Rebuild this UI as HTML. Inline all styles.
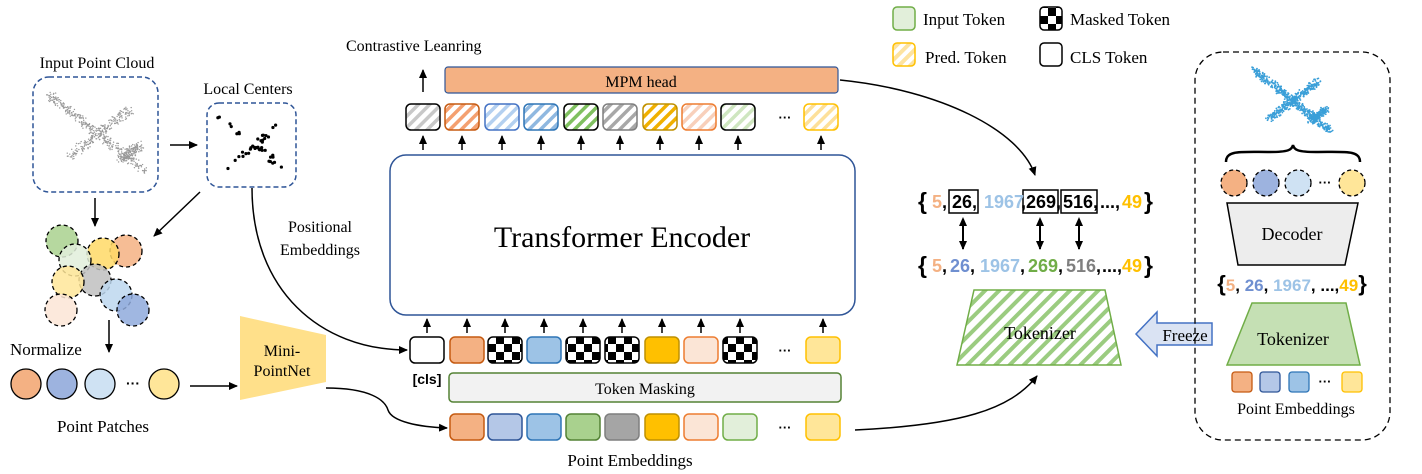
<!DOCTYPE html>
<html><head><meta charset="utf-8"><style>
html,body{margin:0;padding:0;background:#fff;}
svg{display:block}
.t{font-family:"Liberation Serif",serif;fill:#000}
.b{font-family:"Liberation Sans",sans-serif;font-weight:bold}
</style></head><body>
<svg id="s" width="1422" height="474" viewBox="0 0 1422 474" xmlns="http://www.w3.org/2000/svg">
<defs>
<marker id="ar" markerWidth="10" markerHeight="10" refX="8" refY="5" orient="auto" markerUnits="userSpaceOnUse"><path d="M0,1 L9,5 L0,9 Z" fill="#000"/></marker>
<marker id="ar2" markerWidth="10" markerHeight="10" refX="2" refY="5" orient="auto" markerUnits="userSpaceOnUse"><path d="M9,1 L0,5 L9,9 Z" fill="#000"/></marker>
<pattern id="chk" width="16" height="16" patternUnits="userSpaceOnUse"><rect width="16" height="16" fill="#fff"/><rect width="8" height="8" fill="#000"/><rect x="8" y="8" width="8" height="8" fill="#000"/></pattern>
<pattern id="hg" width="10" height="10" patternUnits="userSpaceOnUse" patternTransform="rotate(45)"><rect width="10" height="10" fill="#fff"/><rect width="4" height="10" fill="#9bcc80"/></pattern>
<pattern id="hy" width="8" height="8" patternUnits="userSpaceOnUse" patternTransform="rotate(45)"><rect width="8" height="8" fill="#fff"/><rect width="4" height="8" fill="#fde3a0"/></pattern>
</defs>

<!-- legend -->
<rect x="893" y="7" width="22" height="23" rx="4" fill="#e2efda" stroke="#70ad47" stroke-width="1.5"/>
<text x="923" y="25" class="t" font-size="17">Input Token</text>
<rect x="1040" y="7" width="22" height="23" rx="4" fill="url(#chk)" stroke="#000" stroke-width="1.5"/>
<text x="1070" y="25" class="t" font-size="17">Masked Token</text>
<rect x="893" y="43" width="22" height="23" rx="4" fill="url(#hy)" stroke="#ffc000" stroke-width="1.5"/>
<text x="925" y="63" class="t" font-size="17">Pred. Token</text>
<rect x="1040" y="43" width="22" height="23" rx="4" fill="#fff" stroke="#000" stroke-width="1.5"/>
<text x="1070" y="63" class="t" font-size="17">CLS Token</text>

<!-- left -->
<text x="97" y="68" class="t" font-size="16" text-anchor="middle">Input Point Cloud</text>
<rect x="33" y="77" width="125" height="115" rx="16" fill="#fff" stroke="#2f5597" stroke-width="1.5" stroke-dasharray="5,3"/>
<g id="pc"></g>
<text x="248" y="94" class="t" font-size="16" text-anchor="middle">Local Centers</text>
<rect x="207" y="103" width="89" height="84" rx="12" fill="#fff" stroke="#2f5597" stroke-width="1.5" stroke-dasharray="5,3"/>
<g id="lc"></g>
<line x1="170" y1="145" x2="197" y2="145" stroke="#000" stroke-width="1.5" marker-end="url(#ar)"/>
<line x1="95" y1="198" x2="95" y2="226" stroke="#000" stroke-width="1.5" marker-end="url(#ar)"/>
<line x1="200" y1="192" x2="154" y2="236" stroke="#000" stroke-width="1.5" marker-end="url(#ar)"/>
<g stroke="#000" stroke-width="1.3" stroke-dasharray="4,3" fill-opacity="0.85">
<circle cx="62" cy="241" r="16" fill="#a9d18e"/>
<circle cx="126" cy="251" r="16" fill="#f4b183"/>
<circle cx="103" cy="254" r="16" fill="#ffd966"/>
<circle cx="75" cy="260" r="16" fill="#e2efda"/>
<circle cx="95" cy="280" r="16" fill="#bfbfbf"/>
<circle cx="68" cy="282" r="16" fill="#ffe699"/>
<circle cx="116" cy="295" r="16" fill="#bdd7ee"/>
<circle cx="61" cy="310" r="16" fill="#fbe5d6"/>
<circle cx="133" cy="310" r="16" fill="#8faadc"/>
</g>
<line x1="109" y1="320" x2="109" y2="352" stroke="#000" stroke-width="1.5" marker-end="url(#ar)"/>
<text x="10" y="355" class="t" font-size="17">Normalize</text>
<g stroke="#000" stroke-width="1.3">
<circle cx="26" cy="384" r="15" fill="#f4b183"/>
<circle cx="62" cy="384" r="15" fill="#9db3df"/>
<circle cx="100" cy="384" r="15" fill="#cfe2f3"/>
<circle cx="164" cy="384" r="15" fill="#ffe699"/>
</g>
<text x="133" y="388" class="t b" font-size="14" text-anchor="middle">···</text>
<text x="103" y="432" class="t" font-size="17" text-anchor="middle">Point Patches</text>
<line x1="190" y1="386" x2="237" y2="386" stroke="#000" stroke-width="1.5" marker-end="url(#ar)"/>
<polygon points="240,316 326,335 326,382 240,400" fill="#ffe08a"/>
<text x="282" y="356" class="t" font-size="16" text-anchor="middle">Mini-</text>
<text x="282" y="376" class="t" font-size="16" text-anchor="middle">PointNet</text>
<path d="M326,388 C370,388 385,400 388,410 C392,422 420,427 447,428" fill="none" stroke="#000" stroke-width="1.5" marker-end="url(#ar)"/>
<path d="M252,188 C252,290 320,350 407,350" fill="none" stroke="#000" stroke-width="1.5" marker-end="url(#ar)"/>
<text x="320" y="232" class="t" font-size="16" text-anchor="middle">Positional</text>
<text x="320" y="255" class="t" font-size="16" text-anchor="middle">Embeddings</text>

<!-- center -->
<text x="346" y="51" class="t" font-size="16">Contrastive Leanring</text>
<line x1="423" y1="92" x2="423" y2="70" stroke="#000" stroke-width="1.5" marker-end="url(#ar)"/>
<rect x="445" y="67" width="393" height="26" rx="3" fill="#f4b183" stroke="#2f5597" stroke-width="1.2"/>
<text x="641" y="87" class="t" font-size="16" text-anchor="middle">MPM head</text>
<g id="top"></g>
<rect x="390" y="155" width="465" height="160" rx="16" fill="#fff" stroke="#2f5597" stroke-width="1.5"/>
<text x="622" y="247" class="t" font-size="30" text-anchor="middle">Transformer Encoder</text>
<g id="mid"></g>
<text x="427" y="384" class="b" font-size="14" text-anchor="middle">[cls]</text>
<rect x="449" y="373" width="392" height="29" rx="4" fill="#f2f2f2" stroke="#548235" stroke-width="1.5"/>
<text x="645" y="394" class="t" font-size="16" text-anchor="middle">Token Masking</text>
<g id="bot"></g>
<text x="630" y="466" class="t" font-size="17" text-anchor="middle">Point Embeddings</text>

<!-- tokenizer region -->
<path d="M840,80 C940,90 1020,130 1035,175" fill="none" stroke="#000" stroke-width="1.5" marker-end="url(#ar)"/>
<path d="M855,430 C960,425 1010,410 1037,376" fill="none" stroke="#000" stroke-width="1.5" marker-end="url(#ar)"/>
<rect x="949" y="190" width="29" height="23" fill="none" stroke="#000" stroke-width="1.5"/>
<rect x="1023" y="190" width="35" height="23" fill="none" stroke="#000" stroke-width="1.5"/>
<rect x="1061" y="190" width="36" height="23" fill="none" stroke="#000" stroke-width="1.5"/>
<g class="b" font-size="18">
<text x="918" y="209" font-size="23">{</text>
<text x="932" y="208" fill="#f4b183">5</text><text x="942" y="208">,</text>
<text x="952" y="208">26,</text>
<text x="984" y="208" fill="#9dc3e6">1967</text><text x="1025" y="208" fill="#000" dx="-4">,</text>
<text x="1026" y="208">269,</text>
<text x="1063" y="208">516,</text>
<text x="1100" y="208">...,</text>
<text x="1122" y="208" fill="#ffc000">49</text>
<text x="1144" y="209" font-size="23">}</text>

<text x="918" y="273" font-size="23">{</text>
<text x="932" y="272" fill="#f4b183">5</text><text x="942" y="272">,</text>
<text x="950" y="272" fill="#6f8fd0">26</text><text x="970" y="272">,</text>
<text x="980" y="272" fill="#9dc3e6">1967</text><text x="1020" y="272">,</text>
<text x="1028" y="272" fill="#70ad47">269</text><text x="1058" y="272">,</text>
<text x="1066" y="272" fill="#7f7f7f">516</text><text x="1096" y="272">,</text>
<text x="1102" y="272">...,</text>
<text x="1122" y="272" fill="#ffc000">49</text>
<text x="1144" y="273" font-size="23">}</text>
</g>
<g stroke="#000" stroke-width="2">
<line x1="963" y1="219" x2="963" y2="249" marker-end="url(#ar)" marker-start="url(#ar2)"/>
<line x1="1040" y1="219" x2="1040" y2="249" marker-end="url(#ar)" marker-start="url(#ar2)"/>
<line x1="1079" y1="219" x2="1079" y2="249" marker-end="url(#ar)" marker-start="url(#ar2)"/>
</g>
<polygon points="974,290 1105,290 1121,365 957,365" fill="url(#hg)" stroke="#70ad47" stroke-width="1.5"/>
<text x="1040" y="339" class="t" font-size="18" text-anchor="middle">Tokenizer</text>
<polygon points="1136,334 1157,312 1157,323 1212,323 1212,345 1157,345 1157,356" fill="#dae3f3" stroke="#4472c4" stroke-width="1.5"/>
<text x="1185" y="341" class="t" font-size="17" text-anchor="middle">Freeze</text>

<!-- right box -->
<rect x="1195" y="52" width="195" height="388" rx="28" fill="none" stroke="#000" stroke-width="1.3" stroke-dasharray="6,4"/>
<g id="ap"></g>
<path d="M1226,162 C1226,150 1240,152 1270,152 C1288,152 1292,150 1293,145 C1294,150 1298,152 1316,152 C1346,152 1360,150 1360,162" fill="none" stroke="#000" stroke-width="2.5"/>
<g stroke="#000" stroke-width="1.3" stroke-dasharray="4,3">
<circle cx="1234" cy="183" r="13" fill="#f4b183"/>
<circle cx="1266" cy="183" r="13" fill="#9db3df"/>
<circle cx="1298" cy="183" r="13" fill="#cfe2f3"/>
<circle cx="1352" cy="183" r="13" fill="#ffe699"/>
</g>
<text x="1325" y="187" class="b" font-size="13" text-anchor="middle">···</text>
<polygon points="1227,203 1358,203 1345,265 1238,265" fill="#ededed" stroke="#000" stroke-width="1.5"/>
<text x="1292" y="240" class="t" font-size="18" text-anchor="middle">Decoder</text>
<text x="1292" y="291" class="b" font-size="17" text-anchor="middle"><tspan font-size="22">{</tspan><tspan fill="#f4b183">5</tspan>, <tspan fill="#6f8fd0">26</tspan>, <tspan fill="#9dc3e6">1967</tspan>, ...,<tspan fill="#ffc000">49</tspan><tspan font-size="22">}</tspan></text>
<polygon points="1252,303 1346,303 1360,365 1227,365" fill="#c5e0b4" stroke="#70ad47" stroke-width="1.5"/>
<text x="1293" y="345" class="t" font-size="18" text-anchor="middle">Tokenizer</text>
<rect x="1232" y="372" width="20" height="20" rx="3" fill="#f4b183" stroke="#c55a11" stroke-width="1.3"/>
<rect x="1260" y="372" width="20" height="20" rx="3" fill="#b4c7e7" stroke="#2f5597" stroke-width="1.3"/>
<rect x="1289" y="372" width="20" height="20" rx="3" fill="#9dc3e6" stroke="#2e75b6" stroke-width="1.3"/>
<rect x="1342" y="372" width="20" height="20" rx="3" fill="#ffe699" stroke="#ffc000" stroke-width="1.3"/>
<text x="1325" y="386" class="b" font-size="13" text-anchor="middle">···</text>
<text x="1296" y="414" class="t" font-size="16" text-anchor="middle">Point Embeddings</text>
</svg>
<script>
var NS="http://www.w3.org/2000/svg";
function el(p,t,a){var e=document.createElementNS(NS,t);for(var k in a)e.setAttribute(k,a[k]);document.getElementById(p).appendChild(e);return e;}
var seed=7;function r(){seed=(seed*16807)%2147483647;return seed/2147483647;}
var defs=document.querySelector("defs");
function hatch(id,c){var p=document.createElementNS(NS,"pattern");p.setAttribute("id",id);p.setAttribute("width","8");p.setAttribute("height","8");p.setAttribute("patternUnits","userSpaceOnUse");p.setAttribute("patternTransform","rotate(45)");p.innerHTML='<rect width="8" height="8" fill="#fff"/><rect width="3.5" height="8" fill="'+c+'"/>';defs.appendChild(p);}
var topT=[[406,"#c8c8c8","#000"],[445,"#f4a070","#c55a11"],[485,"#b4d0f0","#4472c4"],[524,"#8fb8e0","#2e75b6"],[564,"#80c060","#000"],[603,"#a8a8a8","#7f7f7f"],[643,"#f0b000","#bf9000"],[682,"#f8d0bb","#ed7d31"],[721,"#cfe6c0","#000"],[804,"#fde09a","#ffc000"]];
topT.forEach(function(t,i){hatch("h"+i,t[1]);el("top","rect",{x:t[0],y:104,width:34,height:26,rx:5,fill:"url(#h"+i+")",stroke:t[2],"stroke-width":1.5});
el("top","line",{x1:t[0]+17,y1:150,x2:t[0]+17,y2:136,stroke:"#000","stroke-width":1.5,"marker-end":"url(#ar)"});});
el("top","text",{x:785,y:122,"text-anchor":"middle","class":"b","font-size":13}).textContent="···";
var mid=[[410,"#fff","#000"],[450,"#f4b183","#c55a11"],[488,"url(#chk)","#000"],[527,"#9dc3e6","#2e75b6"],[566,"url(#chk)","#000"],[605,"url(#chk)","#000"],[645,"#ffc000","#bf9000"],[684,"#fbe5d6","#ed7d31"],[723,"url(#chk)","#000"],[806,"#ffe699","#ffc000"]];
mid.forEach(function(t){el("mid","rect",{x:t[0],y:337,width:34,height:26,rx:5,fill:t[1],stroke:t[2],"stroke-width":1.5});
el("mid","line",{x1:t[0]+17,y1:333,x2:t[0]+17,y2:319,stroke:"#000","stroke-width":1.5,"marker-end":"url(#ar)"});});
el("mid","text",{x:785,y:355,"text-anchor":"middle","class":"b","font-size":13}).textContent="···";
var bot=[[450,"#f4b183","#c55a11"],[488,"#b4c7e7","#2f5597"],[527,"#9dc3e6","#2e75b6"],[566,"#a9d18e","#548235"],[605,"#a5a5a5","#7f7f7f"],[645,"#ffc000","#bf9000"],[684,"#fbe5d6","#ed7d31"],[723,"#e2efda","#70ad47"],[806,"#ffe699","#ffc000"]];
bot.forEach(function(t){el("bot","rect",{x:t[0],y:414,width:34,height:26,rx:5,fill:t[1],stroke:t[2],"stroke-width":1.5});});
el("bot","text",{x:785,y:432,"text-anchor":"middle","class":"b","font-size":13}).textContent="···";
function plane(g,cx,cy,s,col,n,rad){for(var i=0;i<n;i++){var k=r(),x,y;
 if(k<0.5){var u=r();x=-1+2*u;y=-0.8+1.6*u;} else if(k<0.8){var u=r();x=-0.6+1.3*u;y=0.5-1.0*u;} else {var u=r();x=0.5+0.4*u;y=0.55-0.3*u;}
 x+=(r()-0.5)*0.18;y+=(r()-0.5)*0.18;el(g,"circle",{cx:cx+x*s,cy:cy+y*s,r:rad,fill:col});}}
plane("pc",97,133,48,"#999",700,0.7);
plane("ap",1292,100,38,"#3a9fd8",900,0.9);
for(var i=0;i<45;i++){var k=r(),x,y,u=r();if(k<0.55){x=-1+2*u;y=-0.9+1.7*u;}else{x=-0.8+1.6*u;y=0.7-1.3*u;}
 el("lc","circle",{cx:252+x*36+(r()-0.5)*8,cy:145+y*34+(r()-0.5)*8,r:1.6,fill:"#000"});}
</script>
</body></html>
